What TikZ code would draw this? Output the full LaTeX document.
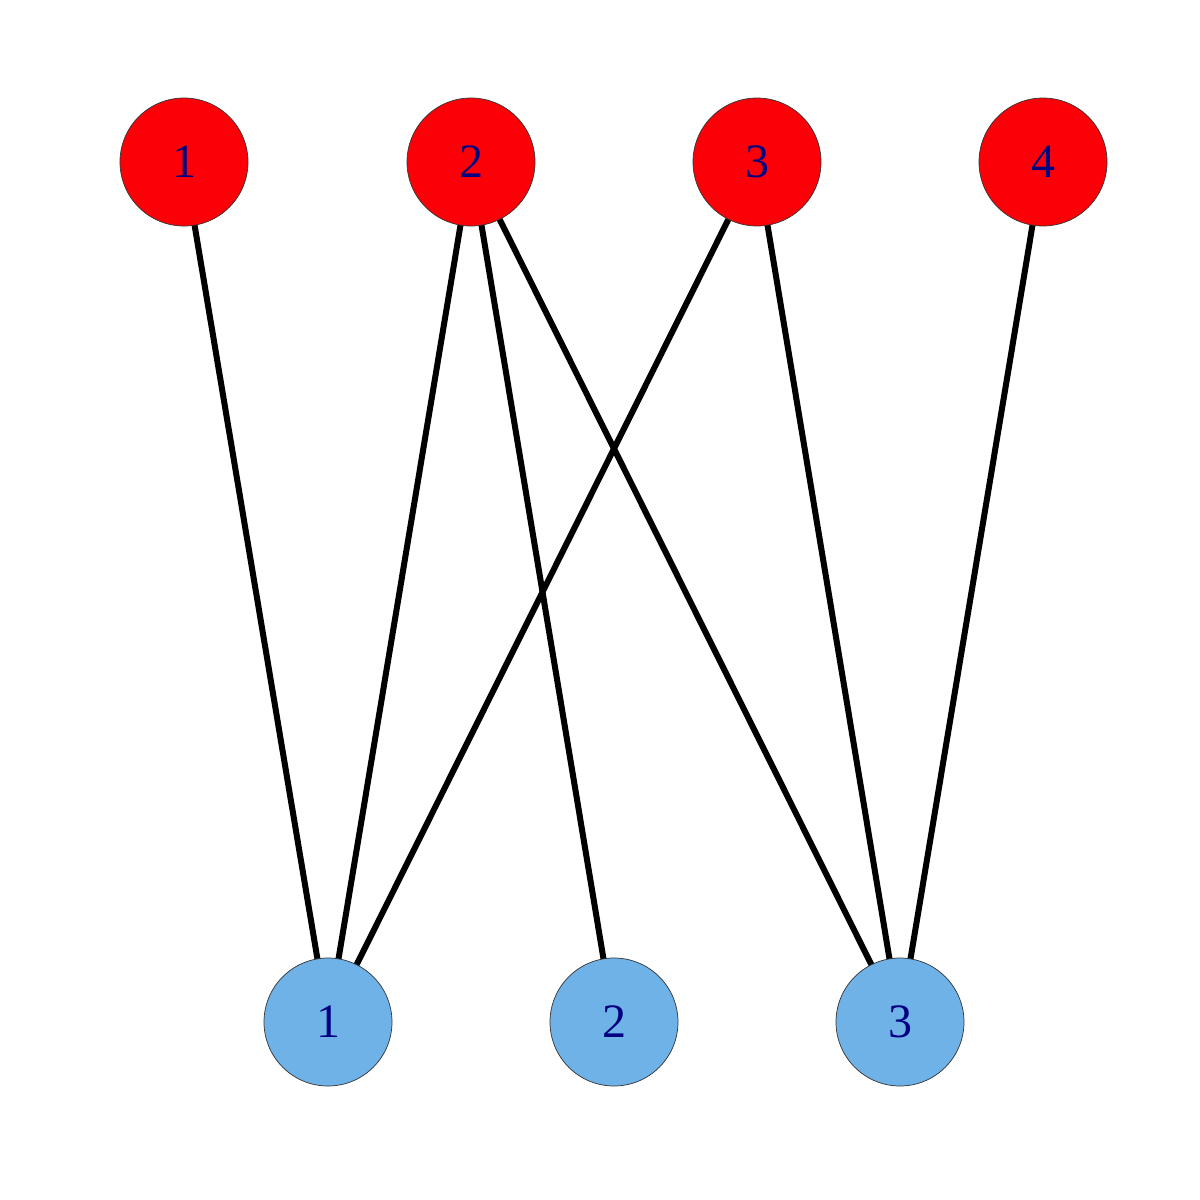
\documentclass[tikz,border=0pt]{standalone}
\usepackage{fontspec}
\setmainfont{Liberation Serif}
\definecolor{topred}{RGB}{252,0,7}
\definecolor{botblue}{RGB}{110,178,232}
\definecolor{labnavy}{RGB}{0,0,128}
\begin{document}
\begin{tikzpicture}[x=1pt,y=-1pt,
  vert/.style={circle,draw=black!80,line width=0.7pt,minimum size=128pt,inner sep=0pt,
    text=labnavy,font=\fontsize{48}{48}\selectfont},
  topv/.style={vert,fill=topred},
  botv/.style={vert,fill=botblue},
  edge/.style={line width=6pt,black}]
\useasboundingbox (0,0) rectangle (1200,1200);
\fill[white] (0,0) rectangle (1200,1200);
\coordinate (ct1) at (184,162);
\coordinate (ct2) at (471,162);
\coordinate (ct3) at (757,162);
\coordinate (ct4) at (1043,162);
\coordinate (cb1) at (328,1022);
\coordinate (cb2) at (614,1022);
\coordinate (cb3) at (900,1022);
\draw[edge] (ct1) -- (cb1);
\draw[edge] (ct2) -- (cb1);
\draw[edge] (ct2) -- (cb2);
\draw[edge] (ct2) -- (cb3);
\draw[edge] (ct3) -- (cb1);
\draw[edge] (ct3) -- (cb3);
\draw[edge] (ct4) -- (cb3);
\node[topv] (t1) at (ct1) {1};
\node[topv] (t2) at (ct2) {2};
\node[topv] (t3) at (ct3) {3};
\node[topv] (t4) at (ct4) {4};
\node[botv] (b1) at (cb1) {1};
\node[botv] (b2) at (cb2) {2};
\node[botv] (b3) at (cb3) {3};
\end{tikzpicture}
\end{document}
